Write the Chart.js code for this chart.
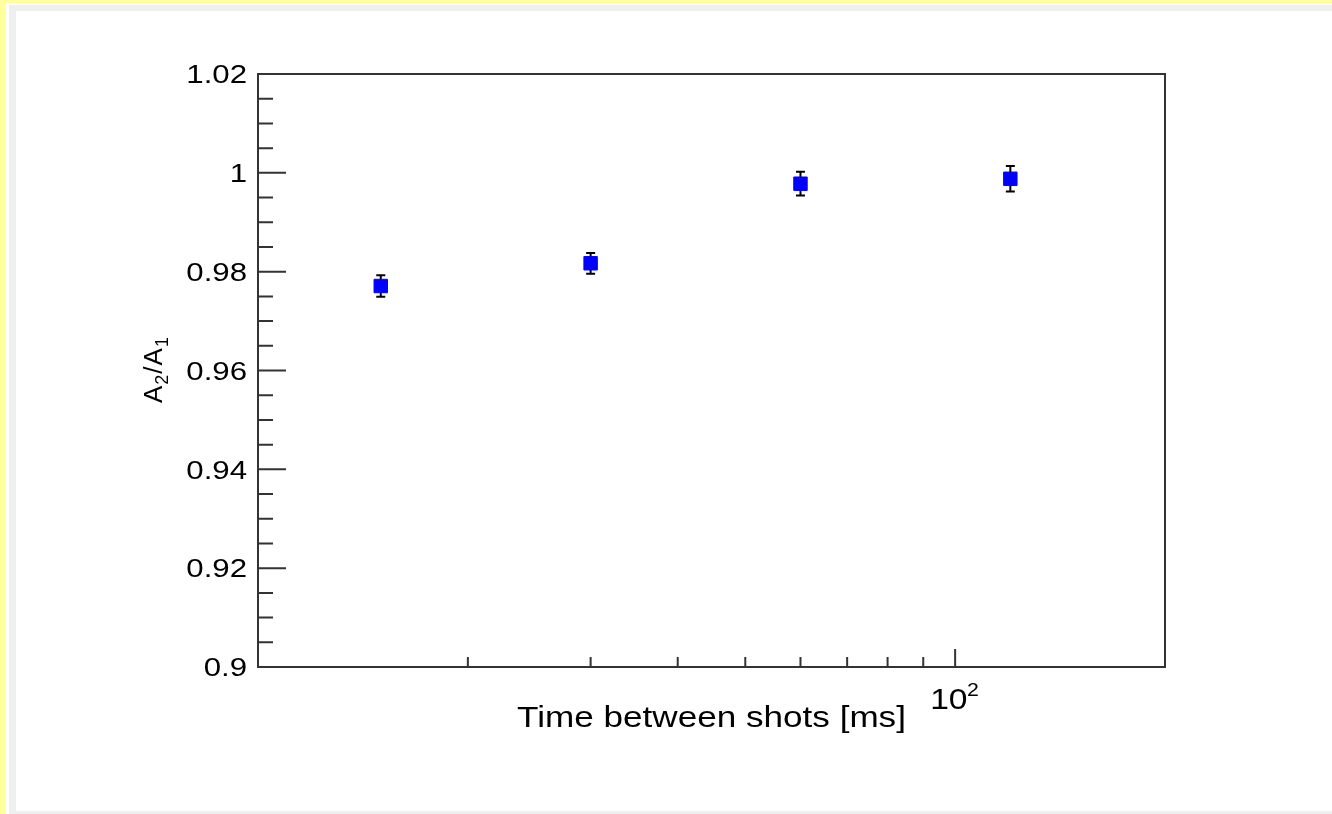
<!DOCTYPE html>
<html>
<head>
<meta charset="utf-8">
<script src="https://cdn.jsdelivr.net/npm/chart.js@4"></script>
<style>
  body { margin: 0; background: #fff; }
  .yl { position: absolute; background: #ffff9c; }
  .gr { position: absolute; background: #efefef; }
  #myChart { position: absolute; left: 0; top: 0; }
</style>
</head>
<body>
<div class="yl" style="left:0;top:0;width:6px;height:814px"></div>
<div class="yl" style="left:0;top:0;width:1332px;height:3px"></div>
<div class="gr" style="left:9px;top:5px;width:1323px;height:6px"></div>
<div class="gr" style="left:9px;top:5px;width:7px;height:809px"></div>
<div class="gr" style="left:9px;top:811px;width:1323px;height:3px"></div>
<canvas id="myChart" width="1332" height="814"></canvas>
<script>
// time between shots [ms] and amplitude ratio A2/A1
var shotTimes = [15, 30, 60, 120];
var ratios = [0.9771, 0.9817, 0.9978, 0.9988];
var ratioErrors = [0.0022, 0.0021, 0.0024, 0.0026];

var yTicks = [0.9, 0.92, 0.94, 0.96, 0.98, 1, 1.02];
var yTickLabels = ['0.9', '0.92', '0.94', '0.96', '0.98', '1', '1.02'];
var xMinorTicks = [20, 30, 40, 50, 60, 70, 80, 90];
var xMajorTicks = [100];

var FONT = '"Liberation Sans", Arial, Helvetica, sans-serif';

// ROOT style frame, inward ticks, error bars and labels
var rootStyle = {
  id: 'rootStyle',
  beforeDatasetsDraw: function (chart) {
    var ctx = chart.ctx, xs = chart.scales.x, ys = chart.scales.y;
    ctx.save();
    ctx.strokeStyle = '#000';
    ctx.lineWidth = 2;
    shotTimes.forEach(function (t, i) {
      var px = xs.getPixelForValue(t);
      var top = ys.getPixelForValue(ratios[i] + ratioErrors[i]);
      var bot = ys.getPixelForValue(ratios[i] - ratioErrors[i]);
      ctx.beginPath();
      ctx.moveTo(px, top); ctx.lineTo(px, bot);
      ctx.moveTo(px - 4.5, top); ctx.lineTo(px + 4.5, top);
      ctx.moveTo(px - 4.5, bot); ctx.lineTo(px + 4.5, bot);
      ctx.stroke();
    });
    ctx.restore();
  },
  afterDraw: function (chart) {
    var ctx = chart.ctx, a = chart.chartArea, xs = chart.scales.x, ys = chart.scales.y;
    ctx.save();
    ctx.strokeStyle = '#333';
    ctx.lineWidth = 2;
    ctx.strokeRect(a.left, a.top, a.right - a.left, a.bottom - a.top);

    ctx.beginPath();
    // y ticks: minor every 0.005, major every 0.02
    for (var i = 0; i <= 24; i++) {
      var py = ys.getPixelForValue(0.9 + i * 0.005);
      var len = (i % 4 === 0) ? 28 : 15;
      ctx.moveTo(a.left, py); ctx.lineTo(a.left + len, py);
    }
    xMinorTicks.forEach(function (v) {
      var px = xs.getPixelForValue(v);
      ctx.moveTo(px, a.bottom); ctx.lineTo(px, a.bottom - 10);
    });
    xMajorTicks.forEach(function (v) {
      var px = xs.getPixelForValue(v);
      ctx.moveTo(px, a.bottom); ctx.lineTo(px, a.bottom - 18);
    });
    ctx.stroke();

    ctx.fillStyle = '#000';
    // y tick labels (text in the picture is a bit wide)
    ctx.font = '26px ' + FONT;
    ctx.textAlign = 'right';
    ctx.textBaseline = 'middle';
    yTicks.forEach(function (v, i) {
      var py = ys.getPixelForValue(v) + 2;
      ctx.save();
      ctx.translate(247, py);
      ctx.scale(1.2, 1);
      ctx.fillText(yTickLabels[i], 0, 0);
      ctx.restore();
    });

    // 10^2 label
    ctx.textAlign = 'left';
    ctx.textBaseline = 'alphabetic';
    xMajorTicks.forEach(function (v) {
      var px = xs.getPixelForValue(v);
      ctx.save();
      ctx.translate(px - 25, 709);
      ctx.scale(1.12, 1);
      ctx.font = '30px ' + FONT;
      ctx.fillText('10', 0, 0);
      ctx.font = '19px ' + FONT;
      ctx.fillText('2', 33, -13);
      ctx.restore();
    });

    // x title
    ctx.save();
    ctx.translate((a.left + a.right) / 2, 727);
    ctx.scale(1.17, 1);
    ctx.textAlign = 'center';
    ctx.font = '30px ' + FONT;
    ctx.fillText('Time between shots [ms]', 0, 0);
    ctx.restore();

    // y title A2/A1, rotated
    ctx.save();
    ctx.translate(162, 403);
    ctx.rotate(-Math.PI / 2);
    ctx.textAlign = 'left';
    var x = 0;
    [['A', 26, 0], ['2', 18, 6], ['/', 26, 0], ['A', 26, 0], ['1', 18, 6]].forEach(function (p) {
      ctx.font = p[1] + 'px ' + FONT;
      ctx.fillText(p[0], x, p[2]);
      x += ctx.measureText(p[0]).width + 1;
    });
    ctx.restore();
    ctx.restore();
  }
};

var ctx = document.getElementById('myChart').getContext('2d');
var myChart = new Chart(ctx, {
  type: 'scatter',
  data: {
    datasets: [{
      label: 'A2/A1',
      data: shotTimes.map(function (t, i) { return { x: t, y: ratios[i] }; }),
      pointStyle: 'rect',
      pointRadius: 9.5,
      pointBackgroundColor: '#0000ff',
      pointBorderColor: '#0000ff',
      pointBorderWidth: 1
    }]
  },
  options: {
    responsive: false,
    animation: false,
    devicePixelRatio: 1,
    layout: { padding: { left: 258, top: 74, right: 167, bottom: 147 } },
    scales: {
      x: { type: 'logarithmic', min: 10, max: 200, display: false },
      y: { type: 'linear', min: 0.9, max: 1.02, display: false }
    },
    plugins: {
      legend: { display: false },
      tooltip: { enabled: false }
    }
  },
  plugins: [rootStyle]
});
</script>
</body>
</html>
